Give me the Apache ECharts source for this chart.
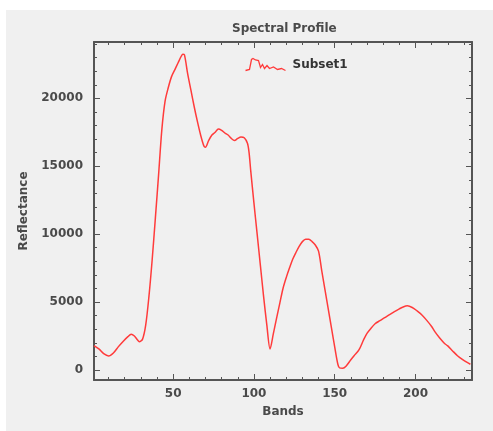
<!DOCTYPE html>
<html>
  <head>
    <meta charset="UTF-8" />
    <title>Spectral Profile</title>
    <style>
      body {
        margin: 0;
        background: #ffffff;
      }
      #spectral-chart {
        position: absolute;
        left: 6px;
        top: 10px;
        width: 487px;
        height: 421px;
        background: #f0f0f0;
      }
    </style>
    <script type="text/javascript" src="https://cdn.jsdelivr.net/npm/echarts@6/dist/echarts.min.js"></script>
  </head>

  <body>
    <div id="spectral-chart"></div>

    <script>
      var bands = [
        1, 4, 7, 10, 13, 16, 19, 22, 24, 26, 28, 29, 31, 33, 35, 37, 39, 41, 43, 45,
        47, 49, 51, 53, 55, 56, 57, 59, 61, 63, 65, 67, 69, 70, 72, 74, 76, 78, 80, 82,
        84, 86, 88, 90, 92, 94, 96, 97, 98, 100, 102, 104, 106, 108, 110, 112, 114, 116, 118, 120,
        122, 124, 126, 128, 130, 132, 134, 136, 138, 140, 142, 144, 146, 148, 150, 152, 153, 155, 157, 160,
        162, 165, 168, 170, 172, 175, 178, 181, 184, 187, 190, 192, 195, 198, 201, 204, 207, 210, 212, 215,
        218, 220, 223, 226, 229, 232, 234
      ];

      var reflectance = [
        1800, 1550, 1200, 1030, 1250, 1700, 2100, 2450, 2630, 2500, 2200, 2080, 2250, 3300, 5400, 8100, 11200, 14400, 17700, 19800,
        20800, 21600, 22100, 22600, 23100, 23250, 23200, 21800, 20600, 19400, 18300, 17300, 16500, 16400, 16900, 17300, 17500, 17750, 17650, 17450,
        17300, 17050, 16900, 17050, 17150, 17100, 16700, 16000, 14700, 12300, 10000, 7700, 5400, 3300, 1550, 2650, 3800, 4900, 6000, 6800,
        7500, 8150, 8650, 9100, 9450, 9620, 9620, 9450, 9200, 8750, 7300, 5900, 4500, 3100, 1700, 400, 150, 130, 280, 750,
        1050, 1470, 2250, 2700, 3000, 3400, 3630, 3850, 4080, 4300, 4500, 4620, 4720, 4600, 4350, 4050, 3650, 3200, 2820, 2350,
        1950, 1770, 1400, 1050, 780, 550, 420
      ];

      var xMajor = [50, 100, 150, 200];
      var xMinor = [10, 20, 30, 40, 60, 70, 80, 90, 110, 120, 130, 140, 160, 170, 180, 190, 210, 220, 230];
      var yMajor = [0, 5000, 10000, 15000, 20000];
      var yMinor = [1000, 2000, 3000, 4000, 6000, 7000, 8000, 9000, 11000, 12000, 13000, 14000, 16000, 17000, 18000, 19000, 21000, 22000, 23000, 24000];

      var textColor = "#4a4a4a";
      var frameColor = "#555555";
      var fontFamily = "DejaVu Sans";
      var gridW = 378;
      var gridH = 338;

      var labelFont = { color: textColor, fontSize: 12, fontWeight: "bold", fontFamily: fontFamily };

      var myChart = echarts.init(document.getElementById("spectral-chart"));

      // frame line + labels, no ticks
      function frameX(position, labels) {
        return {
          type: "value",
          position: position,
          min: 1,
          max: 235,
          axisLine: { show: true, onZero: false, lineStyle: { color: frameColor, width: 2 } },
          axisTick: { show: false },
          axisLabel: Object.assign({ show: labels, customValues: xMajor, margin: 8 }, labelFont),
          splitLine: { show: false },
        };
      }

      function frameY(position, labels) {
        return {
          type: "value",
          position: position,
          min: -740,
          max: 24150,
          axisLine: { show: true, onZero: false, lineStyle: { color: frameColor, width: 2 } },
          axisTick: { show: false },
          axisLabel: Object.assign(
            { show: labels, customValues: yMajor, margin: 11, formatter: function (v) { return String(v); } },
            labelFont
          ),
          splitLine: { show: false },
        };
      }

      // tick-only axes moved onto the opposite edge so the ticks point inwards
      function tickX(position, offset, ticks, len) {
        return {
          type: "value",
          position: position,
          offset: offset,
          min: 1,
          max: 235,
          axisLine: { show: false, onZero: false },
          axisTick: { show: true, length: len, customValues: ticks, lineStyle: { color: frameColor, width: 1 } },
          axisLabel: { show: false },
          splitLine: { show: false },
        };
      }

      function tickY(position, offset, ticks, len) {
        return {
          type: "value",
          position: position,
          offset: offset,
          min: -740,
          max: 24150,
          axisLine: { show: false, onZero: false },
          axisTick: { show: true, length: len, customValues: ticks, lineStyle: { color: frameColor, width: 1 } },
          axisLabel: { show: false },
          splitLine: { show: false },
        };
      }

      var xAxes = [
        frameX("bottom", true),
        frameX("top", false),
        tickX("top", -gridH, xMajor, 6),
        tickX("top", -gridH, xMinor, 3),
        tickX("bottom", -gridH, xMajor, 6),
        tickX("bottom", -gridH, xMinor, 3),
      ];
      xAxes[0].name = "Bands";
      xAxes[0].nameLocation = "middle";
      xAxes[0].nameGap = 26;
      xAxes[0].nameTextStyle = labelFont;

      var yAxes = [
        frameY("left", true),
        frameY("right", false),
        tickY("right", -gridW, yMajor, 6),
        tickY("right", -gridW, yMinor, 3),
        tickY("left", -gridW, yMajor, 6),
        tickY("left", -gridW, yMinor, 3),
      ];
      yAxes[0].name = "Reflectance";
      yAxes[0].nameLocation = "middle";
      yAxes[0].nameGap = 60;
      yAxes[0].nameTextStyle = labelFont;

      var points = [];
      for (var i = 0; i < bands.length; i++) {
        points.push([bands[i], reflectance[i]]);
      }

      var option = {
        animation: false,
        backgroundColor: "#f0f0f0",
        title: {
          text: "Spectral Profile",
          left: 221,
          top: 8,
          textStyle: labelFont,
        },
        legend: {
          left: 232,
          top: 41,
          itemWidth: 44,
          itemHeight: 12,
          itemGap: 5,
          icon: "path://M0 24 L8 22 L12 2 L15 0 L20 3 L26 4 L30 18 L34 12 L38 20 L43 14 L48 20 L56 17 L64 22 L72 20 L80 24",
          itemStyle: { color: "none", borderColor: "#ff3b3b", borderWidth: 1.3 },
          textStyle: { color: "#333333", fontSize: 12, fontWeight: "bold", fontFamily: fontFamily },
          data: ["Subset1"],
        },
        grid: { left: 88, top: 32, right: 21, bottom: 51 },
        xAxis: xAxes,
        yAxis: yAxes,
        series: [
          {
            name: "Subset1",
            type: "line",
            data: points,
            smooth: 0.3,
            showSymbol: false,
            lineStyle: { color: "#ff3b3b", width: 1.5 },
            itemStyle: { color: "#ff3b3b" },
          },
        ],
      };

      myChart.setOption(option);
    </script>
  </body>
</html>
